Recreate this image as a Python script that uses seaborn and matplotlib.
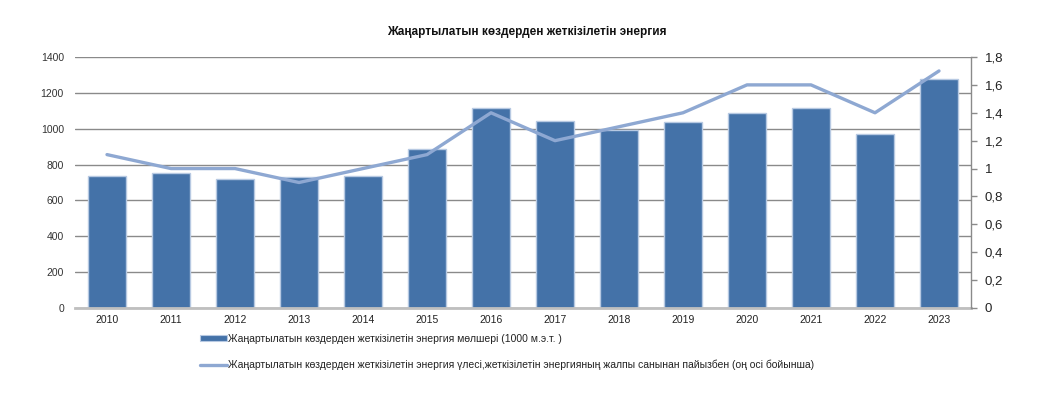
import matplotlib
matplotlib.use("Agg")
import matplotlib.pyplot as plt
import seaborn as sns
import numpy as np
import pandas as pd
from matplotlib.ticker import FuncFormatter, MultipleLocator
from matplotlib.patches import Patch
from matplotlib.lines import Line2D

years = ["2010", "2011", "2012", "2013", "2014", "2015", "2016",
         "2017", "2018", "2019", "2020", "2021", "2022", "2023"]
energy = [739, 754, 719, 728, 734, 885, 1116, 1043, 993, 1038, 1086, 1116, 971, 1276]
share = [1.1, 1.0, 1.0, 0.9, 1.0, 1.1, 1.4, 1.2, 1.3, 1.4, 1.6, 1.6, 1.4, 1.7]

title = "Жаңартылатын көздерден жеткізілетін энергия"
label_bar = "Жаңартылатын көздерден жеткізілетін энергия мөлшері (1000 м.э.т. )"
label_line = ("Жаңартылатын көздерден жеткізілетін энергия үлесі,жеткізілетін энергияның "
              "жалпы санынан пайызбен (оң осі бойынша)")

sns.set_theme(style="white")
plt.rcParams['font.family'] = ['Liberation Sans', 'DejaVu Sans']

bar_color = "#4472A8"
edge_color = "#B7C9E2"
line_color = "#8EA8D2"

fig = plt.figure(figsize=(10.58, 3.96), dpi=100)
ax = fig.add_axes([75/1058, 88/396, (971-75)/1058, (308-57)/396])

df = pd.DataFrame({"year": years, "energy": energy, "share": share})
sns.barplot(data=df, x="year", y="energy", ax=ax, color=bar_color, width=0.58,
            edgecolor=edge_color, linewidth=1.0, saturation=1)
for p in ax.patches:
    p.set_zorder(3)
ax.set_ylim(0, 1400)
ax.set_xlim(-0.5, 13.5)
ax.yaxis.set_major_locator(MultipleLocator(200))
ax.set_xlabel("")
ax.set_ylabel("")
for s in ["top", "left", "right"]:
    ax.spines[s].set_visible(False)
ax.spines["bottom"].set_color("#BFBFBF")
ax.spines["bottom"].set_linewidth(2)
ax.spines["bottom"].set_zorder(4)
ax.set_axisbelow(True)
ax.yaxis.grid(True, color="#8A8A8A", linewidth=1, zorder=0.5)
ax.xaxis.grid(False)
ax.tick_params(axis="y", length=0, pad=8, labelsize=7.5, labelcolor="#333333")
ax.tick_params(axis="x", length=0, pad=5, labelsize=7.5, labelcolor="#222222")

ax2 = ax.twinx()
sns.pointplot(data=df, x="year", y="share", ax=ax2, color=line_color, markers="",
              linewidth=2.4, errorbar=None)
ax2.set_ylim(0, 1.8)
ax2.set_xlim(-0.5, 13.5)
ax2.yaxis.set_major_locator(MultipleLocator(0.2))
ax2.yaxis.set_major_formatter(FuncFormatter(lambda v, p: f"{round(v, 1):g}".replace(".", ",")))
ax2.set_ylabel("")
ax2.set_xlabel("")
for s in ["top", "left", "bottom"]:
    ax2.spines[s].set_visible(False)
ax2.spines["right"].set_visible(True)
ax2.spines["right"].set_color("#8A8A8A")
ax2.spines["right"].set_linewidth(1)
ax2.grid(False)
ax2.tick_params(axis="y", right=True, length=4, width=1, color="#8A8A8A", direction="out",
                pad=6, labelsize=9.5, labelcolor="#222222")

fig.text(527/1058, 1 - 32/396, title, ha="center", va="center", fontsize=8.5,
         fontweight="bold", color="#111111")

handles = [Patch(facecolor=bar_color, edgecolor=edge_color, linewidth=0.8),
           Line2D([0], [0], color=line_color, linewidth=2.4)]
leg = fig.legend(handles, [label_bar, label_line], loc="upper left",
                 bbox_to_anchor=(200/1058, 1 - 334/396), frameon=False, fontsize=7.5,
                 handlelength=2.6, handleheight=0.5, handletextpad=0.1, labelspacing=1.5,
                 borderaxespad=0, borderpad=0)
for t in leg.get_texts():
    t.set_color("#222222")

fig.savefig("out.png", dpi=100)
